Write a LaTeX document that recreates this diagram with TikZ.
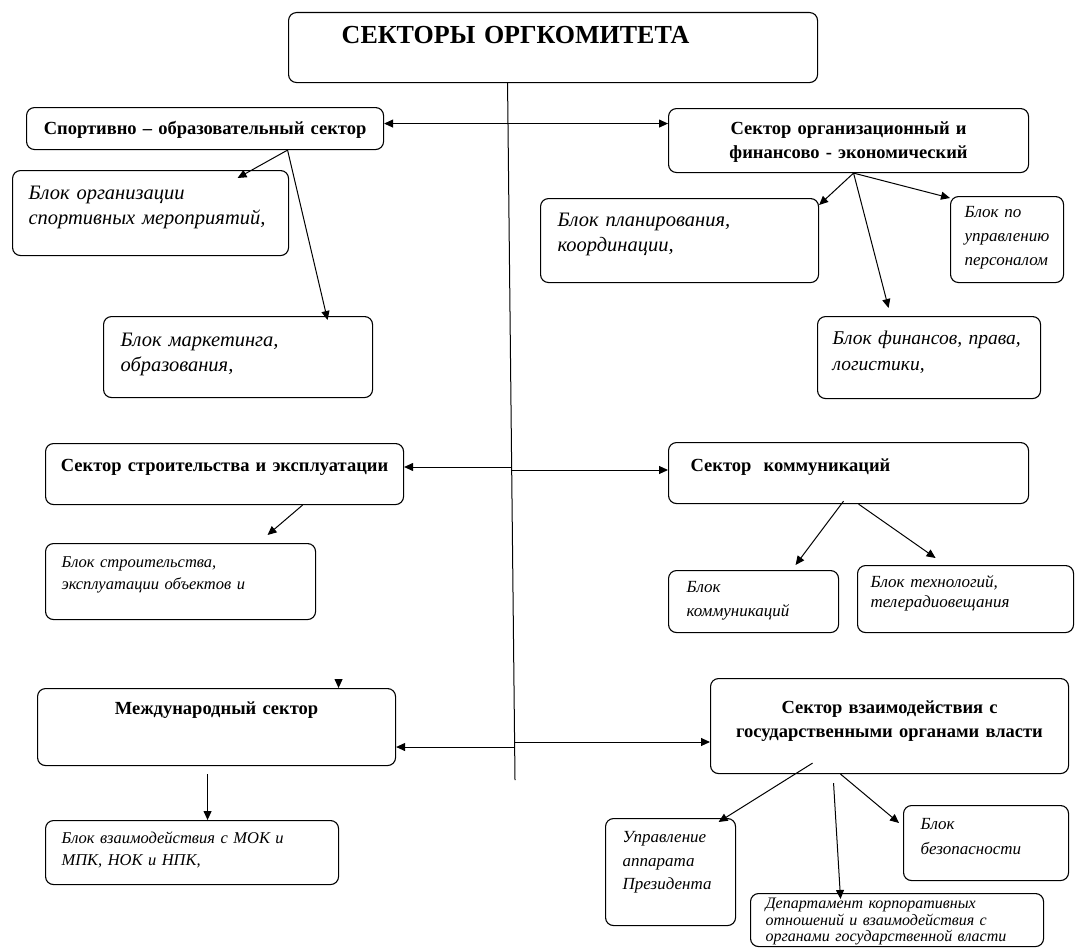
\documentclass[tikz,border=0pt]{standalone}
\usepackage{fontspec}
\setmainfont{Liberation Serif}
\usetikzlibrary{arrows.meta}

\tikzset{
    box/.style={draw, rounded corners=8pt, line width=1.1pt, inner ysep=0pt, anchor=north west},
    sector/.style={box, inner xsep=0pt, align=center, font=\bfseries\fontsize{18.5}{24}\selectfont},
    block/.style={box, inner xsep=16pt, align=left, font=\itshape\fontsize{20.5}{25}\selectfont},
    smallblock/.style={box, inner xsep=16pt, align=left, font=\itshape\fontsize{17}{23}\selectfont},
    link/.style={-{Triangle[length=9pt,width=8pt]}, line width=1pt},
}

\begin{document}
\begin{tikzpicture}[x=1pt, y=-1pt]
    \useasboundingbox (0,0) rectangle (1075,950);

    % top
    \node [box, inner xsep=0pt, align=left, text width=529pt, text height=30.6pt, text depth=39.4pt,
        font=\bfseries\fontsize{26}{30}\selectfont] (T) at (288,12) {\makebox[454pt]{СЕКТОРЫ ОРГКОМИТЕТА}};

    % sectors
    \node [sector, text width=357pt, text height=26.5pt, text depth=15.5pt] (s1) at (26,107)
        {Спортивно – образовательный сектор};
    \node [sector, text width=360pt, text height=25.5pt, text depth=38.5pt] (s2) at (668,108)
        {Сектор организационный и\\финансово - экономический};
    \node [sector, text width=358pt, text height=27.5pt, text depth=33.5pt] (s3) at (45,443)
        {Сектор строительства и эксплуатации};
    \node [sector, align=left, inner xsep=22pt, text width=316pt, text height=28.5pt, text depth=32.5pt] (s4) at (668,442)
        {Сектор\ \ коммуникаций};
    \node [sector, text width=358pt, text height=25.5pt, text depth=51.5pt] (s5) at (37,688)
        {Международный сектор};
    \node [sector, text width=358pt, text height=34.5pt, text depth=60.5pt] (s6) at (710,678)
        {Сектор взаимодействия с\\государственными органами власти};

    % blocks
    \node [block, text width=244pt, text height=28.5pt, text depth=56.5pt] (b1) at (12,170)
        {Блок организации\\\mbox{спортивных мероприятий,}};
    \node [block, inner xsep=17pt, text width=235pt, text height=29.5pt, text depth=51.5pt] (b2) at (103,316)
        {Блок маркетинга,\\образования,};
    \node [block, inner xsep=17pt, text width=244pt, text height=27.5pt, text depth=56.5pt] (b3) at (540,198)
        {Блок планирования,\\координации,};
    \node [block, inner xsep=15pt, text width=193pt, text height=27.5pt, text depth=54.5pt,
        font=\itshape\fontsize{19.5}{26}\selectfont] (b4) at (817,316)
        {\mbox{Блок финансов, права,}\\логистики,};
    \node [smallblock, inner xsep=14pt, text width=85pt, text height=21.3pt, text depth=64.7pt,
        font=\itshape\fontsize{17}{24}\selectfont] (b5) at (950,196)
        {Блок по\\управлению\\персоналом};
    \node [smallblock, text width=238pt, text height=24.3pt, text depth=51.7pt,
        font=\itshape\fontsize{16.5}{22}\selectfont] (b6) at (45,543)
        {Блок строительства,\\эксплуатации объектов и};
    \node [smallblock, inner xsep=18pt, text width=134pt, text height=22.3pt, text depth=39.7pt,
        font=\itshape\fontsize{17}{24}\selectfont] (b7) at (668,570)
        {Блок\\коммуникаций};
    \node [smallblock, inner xsep=13pt, text width=190pt, text height=22.3pt, text depth=44.7pt,
        font=\itshape\fontsize{17}{20}\selectfont] (b8) at (857,565)
        {Блок технологий,\\телерадиовещания};
    \node [smallblock, text width=261pt, text height=23.3pt, text depth=40.7pt,
        font=\itshape\fontsize{16.5}{22}\selectfont] (b9) at (45,820)
        {Блок взаимодействия с МОК и\\МПК, НОК и НПК,};
    \node [smallblock, inner xsep=17pt, text width=96pt, text height=24.3pt, text depth=82.7pt,
        font=\itshape\fontsize{17}{23.5}\selectfont] (b10) at (605,818)
        {Управление\\аппарата\\Президента};
    \node [smallblock, inner xsep=17pt, text width=131pt, text height=24.3pt, text depth=50.7pt,
        font=\itshape\fontsize{17}{25}\selectfont] (b11) at (903,805)
        {Блок\\безопасности};
    \node [smallblock, inner xsep=15pt, text width=263pt, text height=15pt, text depth=38pt,
        font=\itshape\fontsize{16}{16.5}\selectfont] (b12) at (750,893)
        {Департамент корпоративных\\отношений и взаимодействия с\\органами государственной власти};

    % spine
    \coordinate (spinetop) at ([xshift=-45.5pt]T.south);
    \coordinate (spinebot) at (515,780);
    \coordinate (j3) at (511,467);
    \coordinate (j4) at (511.5,470);
    \coordinate (j5) at (514.6,747);
    \coordinate (j6) at (514.6,742);
    \draw [line width=1pt] (spinetop) -- (spinebot);

    \draw [link, {Triangle[length=9pt,width=8pt]}-{Triangle[length=9pt,width=8pt]}]
        ([yshift=5pt]s1.east) -- ([yshift=17pt]s2.west);
    \draw [link] (j3) -- (s3.east |- j3);
    \draw [link] (j4) -- (s4.west |- j4);
    \draw [link] (j5) -- (s5.east |- j5);
    \draw [link] (j6) -- (s6.west |- j6);

    % sector -> blocks
    \coordinate (s1out) at ([xshift=82.5pt]s1.south);
    \draw [link] (s1out) -- ([xshift=87pt,yshift=-8pt]b1.north);
    \draw [link] (s1out) -- ([xshift=89.5pt,yshift=-4pt]b2.north);

    \coordinate (s2out) at ([xshift=5pt]s2.south);
    \draw [link] (s2out) -- ([yshift=-7pt]b3.north east);
    \draw [link] (s2out) -- ([xshift=-40.5pt,yshift=8pt]b4.north);
    \draw [link] (s2out) -- ([yshift=-2pt]b5.north west);

    \draw [link] ([xshift=78pt]s3.south) -- ([xshift=87pt,yshift=8pt]b6.north);

    \draw [link] ([xshift=-5pt,yshift=3pt]s4.south) -- ([xshift=42pt,yshift=5pt]b7.north);
    \draw [link] ([xshift=10pt]s4.south) -- ([xshift=-30pt,yshift=7pt]b8.north);

    \draw [link] ([xshift=122pt,yshift=9pt]s5.north) -- ([xshift=122pt]s5.north);
    \draw [link] ([xshift=-9pt,yshift=-8pt]s5.south) -- ([xshift=15.5pt]b9.north);

    \draw [link] ([xshift=-77pt,yshift=11pt]s6.south) -- ([xshift=48pt,yshift=-4pt]b10.north);
    \draw [link] ([xshift=-49pt]s6.south) -- ([xshift=-4pt,yshift=-18pt]b11.north west);
    \draw [link] ([xshift=-56pt,yshift=-9pt]s6.south) -- ([xshift=-56.5pt,yshift=-6pt]b12.north);
\end{tikzpicture}
\end{document}
